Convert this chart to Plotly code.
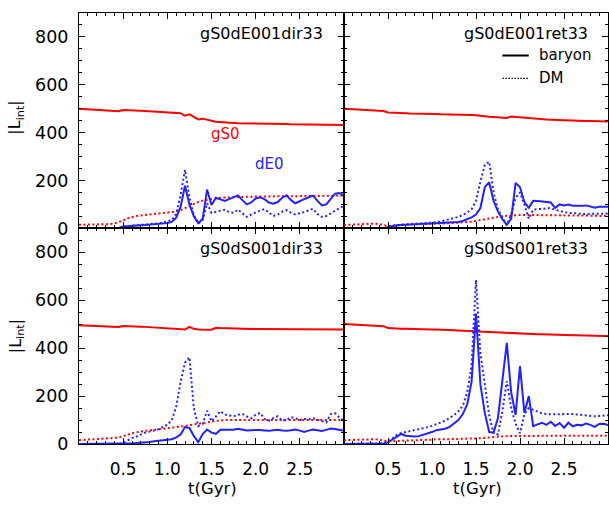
import plotly.graph_objects as go

# time grid (Gyr), 0.05 Gyr steps
t = [round(i * 0.05, 2) for i in range(61)]

# ---------------- Panel 1: gS0dE001dir33 ----------------
p1_gs0_baryon = [499, 498, 497, 496, 495, 494, 493, 492, 490, 489,
                 494, 494, 493, 492, 491, 490, 489, 488, 487, 486,
                 485, 484, 483, 481, 470, 476, 465, 455, 458, 452,
                 449, 445, 443, 442, 441, 440, 439, 439, 438,
                 438, 437, 437, 437, 436, 436, 436, 436, 436, 435, 435,
                 435, 435, 434, 434, 434, 434, 433, 433, 433, 432, 432]
p1_gs0_dm = [15, 15, 15, 16, 16, 17, 17, 18, 20, 26,
             33, 42, 48, 52, 54, 56, 58, 59, 60, 61,
             63, 66, 70, 76, 85, 95, 103, 110, 116, 120,
             124, 126, 128, 129, 130, 130, 131, 131, 132, 132, 133,
             133, 133, 133, 134, 134, 134, 134, 135, 135, 135,
             135, 135, 136, 136, 136, 136, 136, 137, 137, 137]
p1_de0_baryon = [0, 0, 0, 0, 0, 0, 0, 0, 0, 2,
                 8, 10, 11, 12, 13, 14, 15, 16, 17, 19,
                 22, 27, 45, 90, 178, 100, 50, 22, 40, 162,
                 98, 128, 120, 115, 122, 130, 138, 118, 100, 108,
                 125, 130, 122, 108, 103, 110, 128, 138, 118, 105,
                 112, 122, 130, 137, 115, 96, 100, 125, 145, 148, 136]
p1_de0_dm = [0, 0, 0, 0, 0, 0, 0, 0, 0, 2,
             6, 10, 12, 13, 14, 15, 17, 19, 21, 24,
             28, 35, 60, 140, 245, 130, 55, 20, 35, 105,
             65, 70, 75, 78, 68, 65, 78, 62, 48, 58,
             68, 75, 80, 65, 52, 58, 70, 76, 65, 58,
             62, 68, 75, 82, 60, 48, 52, 62, 72, 82, 95]

# ---------------- Panel 2: gS0dE001ret33 ----------------
p2_gs0_baryon = [499, 498, 497, 496, 495, 494, 493, 492, 491, 490,
                 484, 484, 483, 482, 481, 480, 480, 479, 478, 478,
                 477, 477, 476, 476, 475, 475, 474, 474, 474, 473,
                 472, 469, 467, 466, 465, 464, 463, 461, 467, 465,
                 465, 462, 461, 459, 457, 455, 454, 453, 452, 451,
                 451, 450, 450, 449, 449, 448, 448, 447, 447, 446, 446]
p2_gs0_dm = [14, 15, 16, 17, 18, 19, 20, 20, 18, 14,
             10, 12, 14, 15, 16, 17, 17, 18, 18, 19,
             19, 20, 20, 21, 21, 22, 22, 23, 25, 28,
             31, 35, 39, 42, 45, 48, 51, 53, 55, 56,
             56, 56, 56, 56, 56, 55, 55, 55, 55, 55,
             54, 54, 54, 54, 53, 53, 53, 53, 52, 52, 52]
p2_de0_baryon = [0, 0, 0, 0, 0, 0, 0, 0, 0, 0,
                 6, 11, 13, 14, 15, 16, 17, 18, 18, 19,
                 20, 20, 21, 22, 23, 24, 27, 31, 37, 46,
                 58, 85, 172, 193, 115, 70, 38, 15, 40, 190,
                 172, 110, 86, 115, 114, 112, 110, 108, 86, 100,
                 96, 100, 95, 93, 94, 96, 92, 86, 90, 90, 90]
p2_de0_dm = [0, 0, 0, 0, 0, 0, 0, 0, 0, 0,
             5, 10, 13, 15, 17, 18, 19, 20, 21, 22,
             24, 26, 29, 33, 37, 42, 48, 56, 66, 80,
             115, 195, 265, 278, 150, 78, 45, 14, 60, 127,
             150, 100, 40, 78, 80, 82, 84, 85, 78, 72,
             68, 65, 65, 63, 60, 60, 60, 60, 61, 61, 62]

# ---------------- Panel 3: gS0dS001dir33 ----------------
p3_gs0_baryon = [496, 495, 494, 493, 493, 492, 491, 490, 490, 489,
                 493, 493, 492, 491, 490, 489, 488, 487, 486, 485,
                 484, 483, 482, 480, 478, 489, 481, 478, 479, 477,
                 477, 485, 484, 483, 482, 481, 481, 480, 480,
                 480, 480, 480, 480, 479, 479, 479, 479, 479, 479, 479,
                 479, 479, 478, 478, 478, 478, 478, 478, 478, 478, 478]
p3_gs0_dm = [16, 17, 18, 19, 20, 20, 21, 22, 23, 27,
             33, 40, 45, 49, 53, 55, 57, 59, 61, 62,
             64, 66, 69, 72, 75, 79, 82, 86, 90, 93,
             96, 98, 99, 100, 100, 100, 100, 101, 101, 101,
             101, 101, 101, 101, 101, 100, 100, 100, 100, 100,
             100, 100, 100, 100, 100, 100, 100, 100, 100, 100, 100]
p3_ds0_baryon = [0, 0, 0, 0, 0, 0, 0, 0, 0, 0,
                 1, 2, 3, 4, 5, 7, 9, 12, 14, 16,
                 18, 20, 28, 40, 71, 67, 34, 8, 42, 61,
                 48, 42, 60, 59, 59, 60, 64, 60, 57, 58,
                 59, 59, 57, 55, 58, 60, 57, 55, 58, 61,
                 56, 50, 56, 61, 58, 55, 59, 65, 63, 59, 55]
p3_ds0_dm = [0, 0, 0, 0, 0, 0, 0, 0, 0, 0,
             5, 16, 25, 31, 40, 48, 52, 56, 62, 72,
             80, 100, 155, 260, 340, 362, 150, 75, 85, 139,
             95, 115, 137, 123, 118, 116, 122, 126, 115, 108,
             122, 130, 105, 98, 108, 116, 98, 100, 112, 108,
             100, 105, 104, 108, 102, 95, 90, 125, 128, 110, 96]

# ---------------- Panel 4: gS0dS001ret33 ----------------
p4_gs0_baryon = [501, 500, 499, 498, 497, 496, 495, 494, 493, 492,
                 484, 482, 482, 481, 481, 480, 480, 479, 479, 479,
                 478, 478, 478, 477, 476, 475, 474, 473, 472, 471,
                 471, 470, 469, 468, 467, 466, 465, 464, 461, 460,
                 460, 460, 459, 459, 458, 458, 457, 457, 456, 456,
                 455, 455, 454, 454, 453, 453, 452, 452, 452, 451, 451]
p4_gs0_dm = [16, 17, 18, 18, 19, 19, 20, 20, 18, 14,
             11, 12, 13, 13, 14, 14, 15, 16, 17, 18,
             18, 19, 20, 20, 21, 21, 22, 22, 22, 23,
             23, 25, 27, 29, 30, 31, 32, 33, 34, 34,
             34, 34, 34, 34, 34, 34, 34, 35, 35, 35,
             35, 35, 35, 35, 35, 35, 35, 35, 35, 35, 35]
p4_ds0_baryon = [0, 0, 0, 0, 0, 0, 0, 0, 0, 2,
                 7, 18, 30, 42, 35, 32, 31, 33, 38, 44,
                 50, 58, 60, 64, 72, 85, 100, 125, 165, 260,
                 545, 250, 130, 50, 48, 110, 275, 422, 215, 122,
                 325, 130, 200, 75, 82, 89, 80, 93, 75, 88,
                 68, 89, 74, 80, 78, 86, 80, 72, 84, 85, 79]
p4_ds0_dm = [0, 0, 0, 0, 0, 0, 0, 0, 0, 3,
             10, 25, 38, 46, 50, 53, 56, 60, 64, 70,
             76, 82, 90, 98, 108, 120, 137, 160, 215, 330,
             685, 380, 250, 120, 45, 40, 137, 262, 150, 85,
             45, 125, 150, 143, 135, 128, 125, 124, 123, 124,
             125, 126, 125, 123, 121, 119, 117, 116, 117, 119, 120]

panel_titles = ["gS0dE001dir33", "gS0dE001ret33", "gS0dS001dir33", "gS0dS001ret33"]
panels = [
    (p1_gs0_baryon, p1_gs0_dm, p1_de0_baryon, p1_de0_dm),
    (p2_gs0_baryon, p2_gs0_dm, p2_de0_baryon, p2_de0_dm),
    (p3_gs0_baryon, p3_gs0_dm, p3_ds0_baryon, p3_ds0_dm),
    (p4_gs0_baryon, p4_gs0_dm, p4_ds0_baryon, p4_ds0_dm),
]

x_ticks = [0.5, 1.0, 1.5, 2.0, 2.5]
x_ticktext = ["0.5", "1.0", "1.5", "2.0", "2.5"]
y_ticks = [0, 200, 400, 600, 800]

RED = "#ff0000"
BLUE = "#2222ff"
FONT = "DejaVu Sans"

W, H = 609, 506


def px(xp):
    return xp / W


def py(yp):
    return 1 - yp / H


xl0, xmid, xr1 = px(79), px(344), px(608)
yt1, ymid, yb0 = py(13), py(233), py(453)

fig = go.Figure()

domains = [
    ([xl0, xmid], [ymid, yt1]),
    ([xmid, xr1], [ymid, yt1]),
    ([xl0, xmid], [yb0, ymid]),
    ([xmid, xr1], [yb0, ymid]),
]

for k, (gs_b, gs_d, d_b, d_d) in enumerate(panels):
    idx = k + 1
    xa = "x" if idx == 1 else f"x{idx}"
    ya = "y" if idx == 1 else f"y{idx}"
    for vals, col, dash in [(gs_b, RED, "solid"), (gs_d, RED, "2px,2.5px"),
                            (d_b, BLUE, "solid"), (d_d, BLUE, "2px,2.5px")]:
        fig.add_trace(go.Scatter(x=t, y=vals, mode="lines", xaxis=xa, yaxis=ya,
                                 line=dict(color=col, width=2, dash=dash),
                                 showlegend=False, hoverinfo="skip"))
    xd, yd = domains[k]
    left = idx in (1, 3)
    bottom = idx in (3, 4)
    xkey = "xaxis" if idx == 1 else f"xaxis{idx}"
    ykey = "yaxis" if idx == 1 else f"yaxis{idx}"
    fig.update_layout(**{
        xkey: dict(domain=xd, anchor=ya, range=[0, 3.0], showgrid=False, zeroline=False,
                   showline=True, linecolor="black", linewidth=1, mirror="ticks",
                   ticks="inside", ticklen=6, tickcolor="black", tickwidth=1,
                   tickmode="array", tickvals=x_ticks, ticktext=x_ticktext,
                   showticklabels=bottom, ticklabelstandoff=10,
                   tickfont=dict(family=FONT, size=17, color="black"),
                   minor=dict(ticks="inside", ticklen=3, tickcolor="black",
                              tick0=0, dtick=0.1, showgrid=False)),
        ykey: dict(domain=yd, anchor=xa, range=[0, 900], showgrid=False, zeroline=False,
                   showline=True, linecolor="black", linewidth=1, mirror="ticks",
                   ticks="inside", ticklen=6, tickcolor="black", tickwidth=1,
                   tickmode="array", tickvals=y_ticks,
                   showticklabels=left, ticklabelstandoff=6,
                   tickfont=dict(family=FONT, size=17.5, color="black"),
                   minor=dict(ticks="inside", ticklen=3, tickcolor="black",
                              tick0=0, dtick=50, showgrid=False)),
    })
    fig.add_annotation(text=panel_titles[k], xref=f"{xa} domain", yref=f"{ya} domain",
                       x=0.93, y=0.905, xanchor="right", yanchor="middle", showarrow=False,
                       font=dict(family=FONT, size=16, color="black"))

# curve labels
fig.add_annotation(text="gS0", xref="x", yref="y", x=1.655, y=392, showarrow=False,
                   font=dict(family=FONT, size=15, color=RED))
fig.add_annotation(text="dE0", xref="x", yref="y", x=2.16, y=268, showarrow=False,
                   font=dict(family=FONT, size=15, color=BLUE))

# legend (top-right panel)
fig.add_shape(type="line", xref="x2", yref="y2", x0=1.80, x1=2.10, y0=722, y1=722,
              line=dict(color="black", width=2))
fig.add_shape(type="line", xref="x2", yref="y2", x0=1.80, x1=2.10, y0=626, y1=626,
              line=dict(color="black", width=1.2, dash="1.5px,1.5px"))
fig.add_annotation(text="baryon", xref="x2", yref="y2", x=2.19, y=722, xanchor="left",
                   showarrow=False, font=dict(family=FONT, size=15, color="black"))
fig.add_annotation(text="DM", xref="x2", yref="y2", x=2.19, y=626, xanchor="left",
                   showarrow=False, font=dict(family=FONT, size=15, color="black"))

# axis titles
for yc in (120, 343):
    fig.add_annotation(text="|L<sub>int</sub>|", xref="paper", yref="paper",
                       x=px(16), y=py(yc), textangle=-90, showarrow=False,
                       xanchor="center", yanchor="middle",
                       font=dict(family=FONT, size=16, color="black"))
for xc in (212, 477):
    fig.add_annotation(text="t(Gyr)", xref="paper", yref="paper",
                       x=px(xc), y=py(498), showarrow=False,
                       xanchor="center", yanchor="middle",
                       font=dict(family=FONT, size=16.5, color="black"))

fig.update_layout(width=W, height=H, margin=dict(l=0, r=0, t=0, b=0),
                  paper_bgcolor="white", plot_bgcolor="white", showlegend=False)

# remove the default page margin so the 609x506 figure fills the window exactly
fig.write_html("out.html", config={"displayModeBar": False},
               post_script="document.body.style.margin='0';"
                           "document.body.style.overflow='hidden';")
